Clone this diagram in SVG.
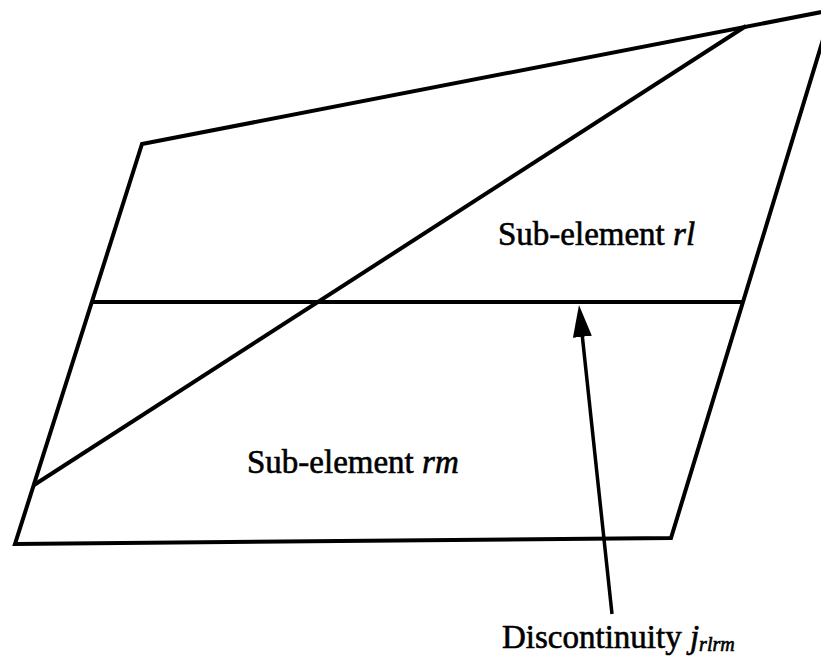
<svg xmlns="http://www.w3.org/2000/svg" width="821" height="656" viewBox="0 0 821 656">
<style>
  .ln { fill: none; stroke: #000; stroke-width: 4; stroke-linejoin: miter; }
  .lbl { font-family: "Liberation Serif", "Times New Roman", serif; font-size: 33px; fill: #000; stroke: #000; stroke-width: 0.6; }
  .it { font-style: italic; }
</style>
<defs>
  <marker id="ah" markerUnits="userSpaceOnUse" markerWidth="34" markerHeight="22" viewBox="0 -11 34 22" refX="12" refY="0" orient="auto">
    <path d="M0,-9.5 L32,0 L0,9.5 z" fill="#000"/>
  </marker>
</defs>
<rect width="821" height="656" fill="#fff"/>
<g id="element">
  <polygon class="ln" points="142,144 832,10 671,538 15,544"/>
</g>
<g id="sub-elements">
  <line class="ln" x1="92" y1="302" x2="743" y2="302"/>
  <line class="ln" x1="34" y1="485" x2="746" y2="26"/>
</g>
<g id="label-rl">
  <text class="lbl" x="498" y="245">Sub-element <tspan class="it">rl</tspan></text>
</g>
<g id="label-rm">
  <text class="lbl" x="247" y="473">Sub-element <tspan class="it">rm</tspan></text>
</g>
<g id="connectors">
  <line x1="612" y1="614" x2="581.1" y2="324.9" stroke="#000" stroke-width="3.5" marker-end="url(#ah)"/>
</g>
<g id="label-discontinuity">
  <text class="lbl" x="502" y="648">Discontinuity <tspan class="it">j</tspan><tspan class="it" font-size="20" dy="3">rlrm</tspan></text>
</g>
</svg>
